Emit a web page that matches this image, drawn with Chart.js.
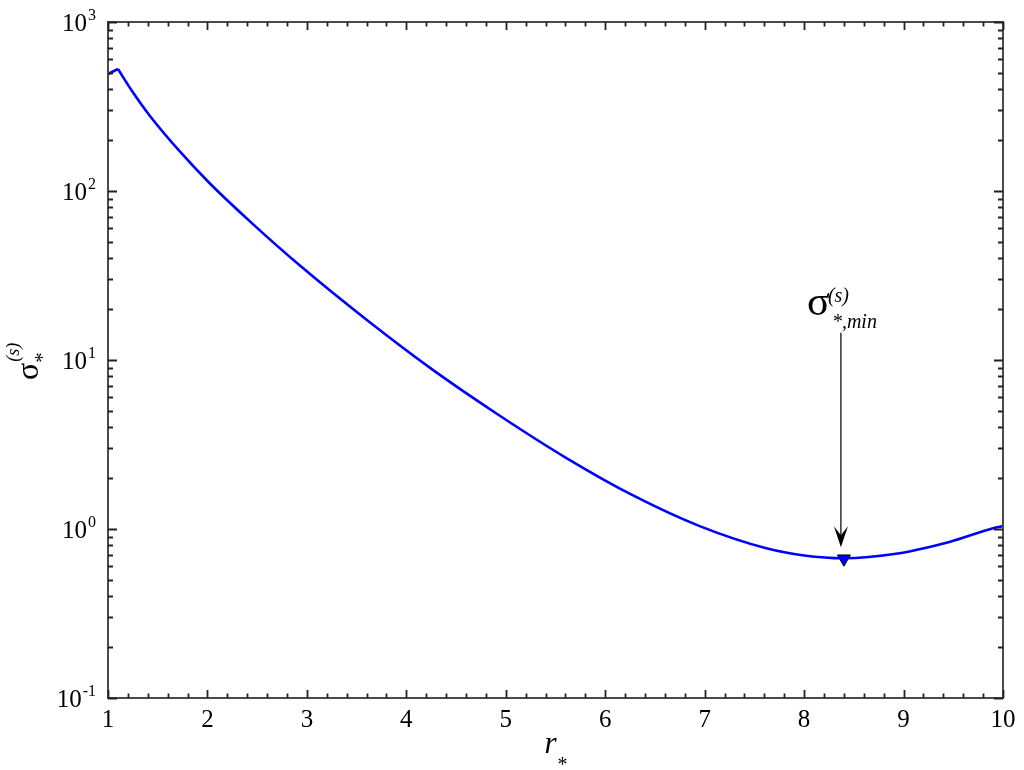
<!DOCTYPE html>
<html><head><meta charset="utf-8">
<script src="https://cdn.jsdelivr.net/npm/chart.js@4.4.1/dist/chart.umd.min.js"></script>
<style>html,body{margin:0;padding:0;background:#fff;}#wrap{width:1024px;height:770px;}</style>
</head><body><div id="wrap"><canvas id="c" width="1024" height="770"></canvas></div>
<script>
// ---- data ----
// first short rising piece (straight), then the main smooth branch
const rStart      = [1.0, 1.1];
const sigmaStart  = [492, 527];
const rValues     = [1.1, 1.25, 1.42, 1.72, 2.03, 2.43, 2.93, 3.6, 4.27, 4.94, 5.61, 6.28, 6.95, 7.62, 8.0, 8.4, 8.96, 9.17, 9.47, 9.9, 10.0];
const sigmaValues = [527, 384, 279, 172, 110, 65.9, 36.2, 17.3, 8.71, 4.68, 2.63, 1.58, 1.04, 0.769, 0.697, 0.671, 0.719, 0.762, 0.841, 1.01, 1.04];
const minR = [8.4];
const minSigma = [0.667];
const arrowR = 8.37;
const arrowTopSigma = 14.5;
const arrowTipSigma = 0.78;
const xTickValues = [1, 2, 3, 4, 5, 6, 7, 8, 9, 10];
const xTickLabels = ['1', '2', '3', '4', '5', '6', '7', '8', '9', '10'];
const yTickValues = [0.1, 1, 10, 100, 1000];
const yTickExponents = ['-1', '0', '1', '2', '3'];

const SERIF = '"Liberation Serif", "Times New Roman", serif';
const AXIS_COLOR = '#4a4a4a';

const decorPlugin = {
  id: 'decor',
  afterDatasetsDraw(chart) {
    const ctx = chart.ctx;
    const xs = chart.scales.x, ys = chart.scales.y;
    const a = chart.chartArea;
    ctx.save();
    // arrow annotation
    const ax = xs.getPixelForValue(arrowR);
    const aTop = ys.getPixelForValue(arrowTopSigma);
    const aTip = ys.getPixelForValue(arrowTipSigma);
    ctx.strokeStyle = '#111';
    ctx.lineWidth = 1.3;
    ctx.beginPath(); ctx.moveTo(ax, aTop); ctx.lineTo(ax, aTip - 10); ctx.stroke();
    ctx.fillStyle = '#000';
    ctx.beginPath();
    ctx.moveTo(ax, aTip);
    ctx.lineTo(ax - 7, aTip - 21);
    ctx.lineTo(ax, aTip - 12);
    ctx.lineTo(ax + 7, aTip - 21);
    ctx.closePath(); ctx.fill();
    // annotation label
    ctx.fillStyle = '#000';
    ctx.textAlign = 'left'; ctx.textBaseline = 'alphabetic';
    const ly = aTop - 18;
    ctx.font = '42px ' + SERIF;
    ctx.fillText('σ', ax - 34, ly);
    ctx.font = 'italic 20px ' + SERIF;
    ctx.fillText('(s)', ax - 13, ly - 13);
    ctx.fillText('*,min', ax - 9, ly + 13);

    // frame
    ctx.strokeStyle = AXIS_COLOR;
    ctx.lineWidth = 2;
    ctx.strokeRect(a.left, a.top, a.right - a.left, a.bottom - a.top);

    // x ticks (inward, top and bottom)
    ctx.lineWidth = 1.8;
    ctx.strokeStyle = '#222';
    ctx.beginPath();
    for (let i = 0; i <= 45; i++) {
      const v = 1 + i * 0.2;
      const px = Math.round(xs.getPixelForValue(v)) + 0.5;
      const major = i % 5 === 0;
      const len = major ? 8 : 4.5;
      ctx.moveTo(px, a.bottom); ctx.lineTo(px, a.bottom - len);
      ctx.moveTo(px, a.top); ctx.lineTo(px, a.top + len);
    }
    // y ticks (log)
    for (let d = -1; d <= 2; d++) {
      for (let m = 1; m <= 10; m++) {
        const v = m * Math.pow(10, d);
        const py = Math.round(ys.getPixelForValue(v)) + 0.5;
        const major = (m === 1 || m === 10);
        const len = major ? 9 : 5;
        ctx.moveTo(a.left, py); ctx.lineTo(a.left + len, py);
        ctx.moveTo(a.right, py); ctx.lineTo(a.right - len, py);
      }
    }
    ctx.stroke();

    // x tick labels
    ctx.fillStyle = '#000';
    ctx.font = '25px ' + SERIF;
    ctx.textAlign = 'center';
    ctx.textBaseline = 'alphabetic';
    xTickValues.forEach((v, i) => {
      ctx.fillText(xTickLabels[i], xs.getPixelForValue(v), a.bottom + 29);
    });
    // y tick labels 10^n
    ctx.textAlign = 'left';
    yTickValues.forEach((v, i) => {
      const py = ys.getPixelForValue(v);
      ctx.font = '16px ' + SERIF;
      const ew = ctx.measureText(yTickExponents[i]).width;
      ctx.font = '25px ' + SERIF;
      const bw = ctx.measureText('10').width;
      const right = a.left - 12;
      const start = right - ew - bw - 1;
      ctx.fillText('10', start, py + 9);
      ctx.font = '16px ' + SERIF;
      ctx.fillText(yTickExponents[i], start + bw + 1, py - 2);
    });

    // x title r_*
    const xc = (a.left + a.right) / 2;
    ctx.font = 'italic 31px ' + SERIF;
    ctx.fillText('r', xc - 11, a.bottom + 55);
    const rw = ctx.measureText('r').width;
    ctx.font = '20px ' + SERIF;
    ctx.fillText('*', xc - 11 + rw + 1, a.bottom + 73);

    // y title sigma^(s)_*
    ctx.save();
    ctx.translate(38, 380);
    ctx.rotate(-Math.PI / 2);
    ctx.font = '32px ' + SERIF;
    ctx.fillText('σ', 0, 0);
    const yw = ctx.measureText('σ').width;
    ctx.font = 'italic 18px ' + SERIF;
    ctx.fillText('(s)', yw + 1, -19);
    ctx.font = '21px ' + SERIF;
    ctx.fillText('*', yw, 11);
    ctx.restore();

    ctx.restore();
  }
};

new Chart(document.getElementById('c'), {
  type: 'line',
  data: {
    datasets: [
      {
        data: rStart.map((x, i) => ({ x: x, y: sigmaStart[i] })),
        borderColor: '#0000ff',
        borderWidth: 2.6,
        pointRadius: 0,
        tension: 0,
        fill: false
      },
      {
        data: rValues.map((x, i) => ({ x: x, y: sigmaValues[i] })),
        borderColor: '#0000ff',
        borderWidth: 2.6,
        pointRadius: 0,
        cubicInterpolationMode: 'monotone',
        fill: false
      },
      {
        data: minR.map((x, i) => ({ x: x, y: minSigma[i] })),
        showLine: false,
        pointStyle: 'triangle',
        rotation: 180,
        pointRadius: 7.5,
        backgroundColor: '#0000ff',
        borderColor: '#000',
        borderWidth: 1
      }
    ]
  },
  options: {
    responsive: false,
    animation: false,
    layout: { padding: { left: 108, right: 21, top: 22, bottom: 72 } },
    plugins: { legend: { display: false }, tooltip: { enabled: false } },
    scales: {
      x: { type: 'linear', min: 1, max: 10, display: false },
      y: { type: 'logarithmic', min: 0.1, max: 1000, display: false }
    }
  },
  plugins: [decorPlugin]
});
</script>
</body></html>
